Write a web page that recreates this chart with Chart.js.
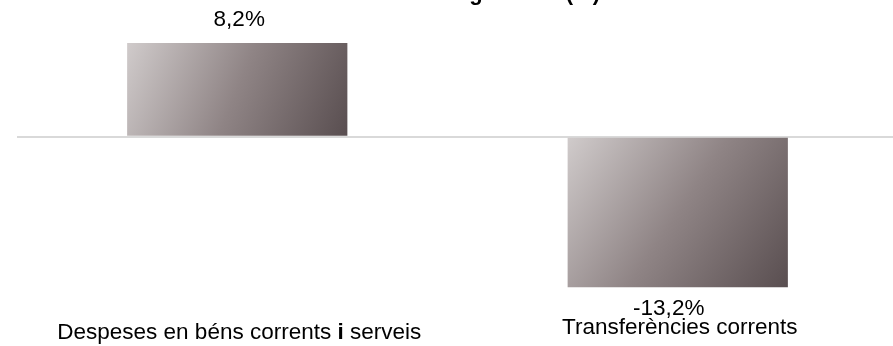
<!DOCTYPE html>
<html>
<head>
<meta charset="utf-8">
<script src="https://cdn.jsdelivr.net/npm/chart.js@4.4.1/dist/chart.umd.min.js"></script>
<style>
    html, body { margin: 0; padding: 0; background: #fff; overflow: hidden; }
    #wrap { width: 898px; height: 346px; }
</style>
</head>
<body>
<div id="wrap"><canvas id="myChart"></canvas></div>
<script>
const chartTitle = "Increment anual de les generals (%)";
const categories = ["Despeses en béns corrents i serveis", "Transferències corrents"];
const values = [8.2, -13.2];

const fontFamily = "'Liberation Sans', Arial, sans-serif";
const labelSize = 22.5;

function fmt(v) {
    return v.toFixed(1).replace(".", ",") + "%";
}

// diagonal light-to-dark fill, one gradient per bar (set once the bars have a size)
const barGradients = {
    id: "barGradients",
    beforeDatasetsDraw(chart) {
        const ctx = chart.ctx;
        chart.getDatasetMeta(0).data.forEach(bar => {
            const left = bar.x - bar.width / 2;
            const right = bar.x + bar.width / 2;
            const top = Math.min(bar.y, bar.base);
            const bottom = Math.max(bar.y, bar.base);
            if (![left, right, top, bottom].every(Number.isFinite)) return;
            const g = ctx.createLinearGradient(left, top, right, bottom);
            g.addColorStop(0, "#d0cbcb");
            g.addColorStop(0.5, "#8f8485");
            g.addColorStop(1, "#594e50");
            bar.options = Object.assign({}, bar.options, { backgroundColor: g });
        });
    }
};

// draws a label where the word " i " is set in bold, like the original
function drawMixed(ctx, text, cx, y) {
    const parts = text.split(/( i )/);
    const normal = labelSize + "px " + fontFamily;
    const bold = "bold " + labelSize + "px " + fontFamily;
    let total = 0;
    parts.forEach(p => {
        ctx.font = p === " i " ? bold : normal;
        total += ctx.measureText(p).width;
    });
    let x = cx - total / 2;
    ctx.textAlign = "left";
    parts.forEach(p => {
        ctx.font = p === " i " ? bold : normal;
        ctx.fillText(p, x, y);
        x += ctx.measureText(p).width;
    });
}

const valueLabels = {
    id: "valueLabels",
    afterDatasetsDraw(chart) {
        const ctx = chart.ctx;
        const meta = chart.getDatasetMeta(0);
        const xs = chart.scales.x;
        ctx.save();
        ctx.fillStyle = "#000";
        ctx.font = labelSize + "px " + fontFamily;
        ctx.textAlign = "center";
        meta.data.forEach((bar, i) => {
            const v = values[i];
            if (v >= 0) {
                ctx.textBaseline = "bottom";
                ctx.fillText(fmt(v), bar.x + 2, bar.y - 12);
            } else {
                ctx.textBaseline = "top";
                ctx.fillText(fmt(v), bar.x - 9, bar.y + 10);
            }
        });
        // category labels under the plot
        ctx.textBaseline = "alphabetic";
        const baselines = [339, 334];
        categories.forEach((c, i) => {
            drawMixed(ctx, c, xs.getPixelForValue(i) + 2, baselines[i]);
        });
        // title, mostly cut off at the top edge as in the original
        ctx.font = "bold 22px " + fontFamily;
        ctx.textAlign = "right";
        ctx.fillText(chartTitle, 600, 0);
        ctx.restore();
    }
};

const ctx = document.getElementById("myChart").getContext("2d");
new Chart(ctx, {
    type: "bar",
    data: {
        labels: categories,
        datasets: [{
            data: values,
            backgroundColor: "#8f8485",
            borderWidth: 0,
            categoryPercentage: 0.5,
            barPercentage: 1.0
        }]
    },
    options: {
        responsive: true,
        maintainAspectRatio: false,
        animation: false,
        layout: { padding: { left: 17, right: 0, top: 43, bottom: -30 } },
        plugins: {
            legend: { display: false },
            tooltip: { enabled: false }
        },
        scales: {
            x: {
                grid: { display: false, drawTicks: false },
                border: { display: false },
                ticks: {
                    color: "rgba(0,0,0,0)",
                    font: { family: fontFamily, size: 22 },
                    padding: 31,
                    maxRotation: 0,
                    autoSkip: false
                }
            },
            y: {
                min: -13.2,
                max: 8.2,
                border: { display: false },
                grid: {
                    drawTicks: false,
                    color: c => c.tick && c.tick.value === 0 ? "#d9d9d9" : "rgba(0,0,0,0)",
                    lineWidth: 2
                },
                ticks: { display: false, stepSize: 1 }
            }
        }
    },
    plugins: [barGradients, valueLabels]
});
</script>
</body>
</html>
